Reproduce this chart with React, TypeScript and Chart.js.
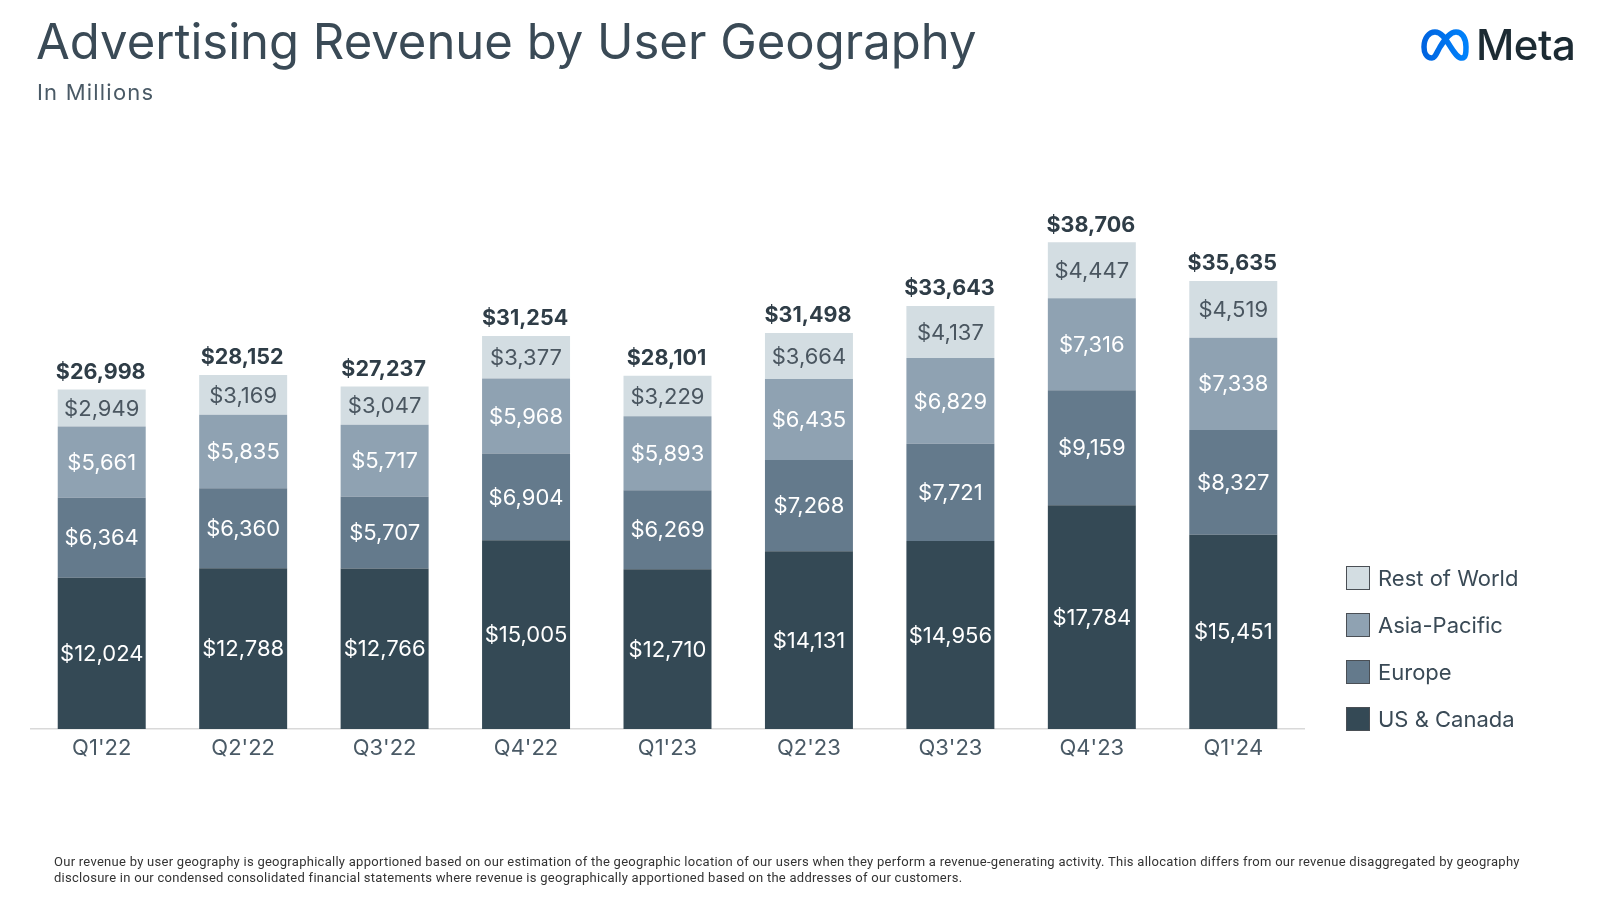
import React, { useEffect, useRef } from "react";
import { Chart, registerables } from "chart.js";

Chart.register(...registerables);

const quarters = ["Q1'22", "Q2'22", "Q3'22", "Q4'22", "Q1'23", "Q2'23", "Q3'23", "Q4'23", "Q1'24"];
const usCanada = [12024, 12788, 12766, 15005, 12710, 14131, 14956, 17784, 15451];
const europe = [6364, 6360, 5707, 6904, 6269, 7268, 7721, 9159, 8327];
const asiaPacific = [5661, 5835, 5717, 5968, 5893, 6435, 6829, 7316, 7338];
const restOfWorld = [2949, 3169, 3047, 3377, 3229, 3664, 4137, 4447, 4519];
const totals = [26998, 28152, 27237, 31254, 28101, 31498, 33643, 38706, 35635];

const seriesNames = ["US & Canada", "Europe", "Asia-Pacific", "Rest of World"];
const seriesColors = ["#344955", "#647a8c", "#8fa2b2", "#d3dde2"];
const labelColors = ["#ffffff", "#ffffff", "#ffffff", "#4a5660"];

const FONT = "Inter, 'Noto Sans', sans-serif";
const fmt = (v: number) => "$" + v.toLocaleString("en-US");

const labelPlugin = {
  id: "segmentLabels",
  afterDatasetsDraw(chart: any) {
    const ctx = chart.ctx;
    ctx.save();
    ctx.textAlign = "center";
    ctx.textBaseline = "middle";
    chart.data.datasets.forEach((ds: any, di: number) => {
      const meta = chart.getDatasetMeta(di);
      meta.data.forEach((bar: any, i: number) => {
        const top = Math.min(bar.y, bar.base);
        const bottom = Math.max(bar.y, bar.base);
        ctx.fillStyle = labelColors[di];
        ctx.font = `400 22px ${FONT}`;
        ctx.fillText(fmt(ds.data[i]), bar.x, (top + bottom) / 2 + 1);
      });
    });
    const lastMeta = chart.getDatasetMeta(chart.data.datasets.length - 1);
    lastMeta.data.forEach((bar: any, i: number) => {
      ctx.fillStyle = "#2f3d47";
      ctx.font = `700 21.5px ${FONT}`;
      ctx.fillText(fmt(totals[i]), bar.x - 1, bar.y - 17);
    });
    ctx.restore();
  },
};

function MetaLogo() {
  return (
    <div style={{ position: "absolute", left: 1420, top: 24, display: "flex", alignItems: "center" }}>
      <svg width="50" height="40" viewBox="0 0 50 36">
        <defs>
          <linearGradient id="mg" x1="0" y1="0" x2="1" y2="0">
            <stop offset="0" stopColor="#0064e0" />
            <stop offset="1" stopColor="#0082fb" />
          </linearGradient>
        </defs>
        <path
          d="M12 31 C6 31 4 25 4 20 C4 11 9 5 15 5 C21 5 25 11 30 19 C35 27 38 31 42 31 C46 31 46 25 46 20 C46 11 42 5 36 5 C30 5 25 12 20 20 C16 27 15 31 12 31 Z"
          fill="none"
          stroke="url(#mg)"
          strokeWidth="5.5"
          strokeLinejoin="round"
        />
      </svg>
      <span style={{ fontFamily: FONT, fontSize: 42, fontWeight: 500, color: "#1c2b33", marginLeft: 6, lineHeight: 1, letterSpacing: -0.5 }}>
        Meta
      </span>
    </div>
  );
}

export default function App() {
  const ref = useRef<HTMLCanvasElement | null>(null);

  useEffect(() => {
    if (!ref.current) return;
    const data = [usCanada, europe, asiaPacific, restOfWorld];
    const chart = new Chart(ref.current, {
      type: "bar",
      data: {
        labels: quarters,
        datasets: data.map((d, i) => ({
          label: seriesNames[i],
          data: d,
          backgroundColor: seriesColors[i],
          borderWidth: 0,
          categoryPercentage: 1,
          barPercentage: 0.622,
        })),
      },
      options: {
        animation: false,
        responsive: false,
        maintainAspectRatio: false,
        layout: { padding: { left: 31, right: 296, top: 226, bottom: 131 } },
        plugins: {
          legend: { display: false },
          tooltip: { enabled: false },
          title: { display: false },
        },
        scales: {
          x: {
            stacked: true,
            grid: { display: false, drawTicks: false },
            border: { display: true, color: "#d9d9d9", width: 1.5 },
            ticks: { color: "#4a5a66", font: { family: FONT, size: 22 }, padding: 6 },
            afterFit: (s: any) => {
              s.height = 40;
            },
          },
          y: {
            stacked: true,
            display: false,
            min: 0,
            max: 40000,
          },
        },
      },
      plugins: [labelPlugin],
    });
    return () => chart.destroy();
  }, []);

  return (
    <div style={{ position: "absolute", left: 0, top: 0, width: 1600, height: 900, background: "#fff", overflow: "hidden" }}>
      <canvas ref={ref} width={1600} height={900} style={{ position: "absolute", left: 0, top: 0 }} />
      <div style={{ position: "absolute", left: 36, top: 13, fontFamily: FONT, fontSize: 49, fontWeight: 400, color: "#3a4a56", lineHeight: 1.2, whiteSpace: "nowrap" }}>
        Advertising Revenue by User Geography
      </div>
      <div style={{ position: "absolute", left: 37, top: 79, fontFamily: FONT, fontSize: 22, letterSpacing: 1.2, color: "#4a5a66", lineHeight: 1.2, whiteSpace: "nowrap" }}>
        In Millions
      </div>
      <MetaLogo />
      <div style={{ position: "absolute", left: 1346, top: 554, fontFamily: FONT }}>
        {[3, 2, 1, 0].map((i) => (
          <div key={i} style={{ display: "flex", alignItems: "center", height: 47 }}>
            <div style={{ width: 22, height: 22, background: seriesColors[i], border: "1px solid #4a4f55" }} />
            <span style={{ marginLeft: 8, fontSize: 22, color: "#3a4a56" }}>{seriesNames[i]}</span>
          </div>
        ))}
      </div>
      <div style={{ position: "absolute", left: 54, top: 854, fontFamily: "Roboto, sans-serif", fontSize: 13, letterSpacing: 0.27, color: "#333", lineHeight: "16px", whiteSpace: "nowrap" }}>
        Our revenue by user geography is geographically apportioned based on our estimation of the geographic location of our users when they perform a revenue-generating activity. This allocation differs from our revenue disaggregated by geography
        <br />
        disclosure in our condensed consolidated financial statements where revenue is geographically apportioned based on the addresses of our customers.
      </div>
    </div>
  );
}
